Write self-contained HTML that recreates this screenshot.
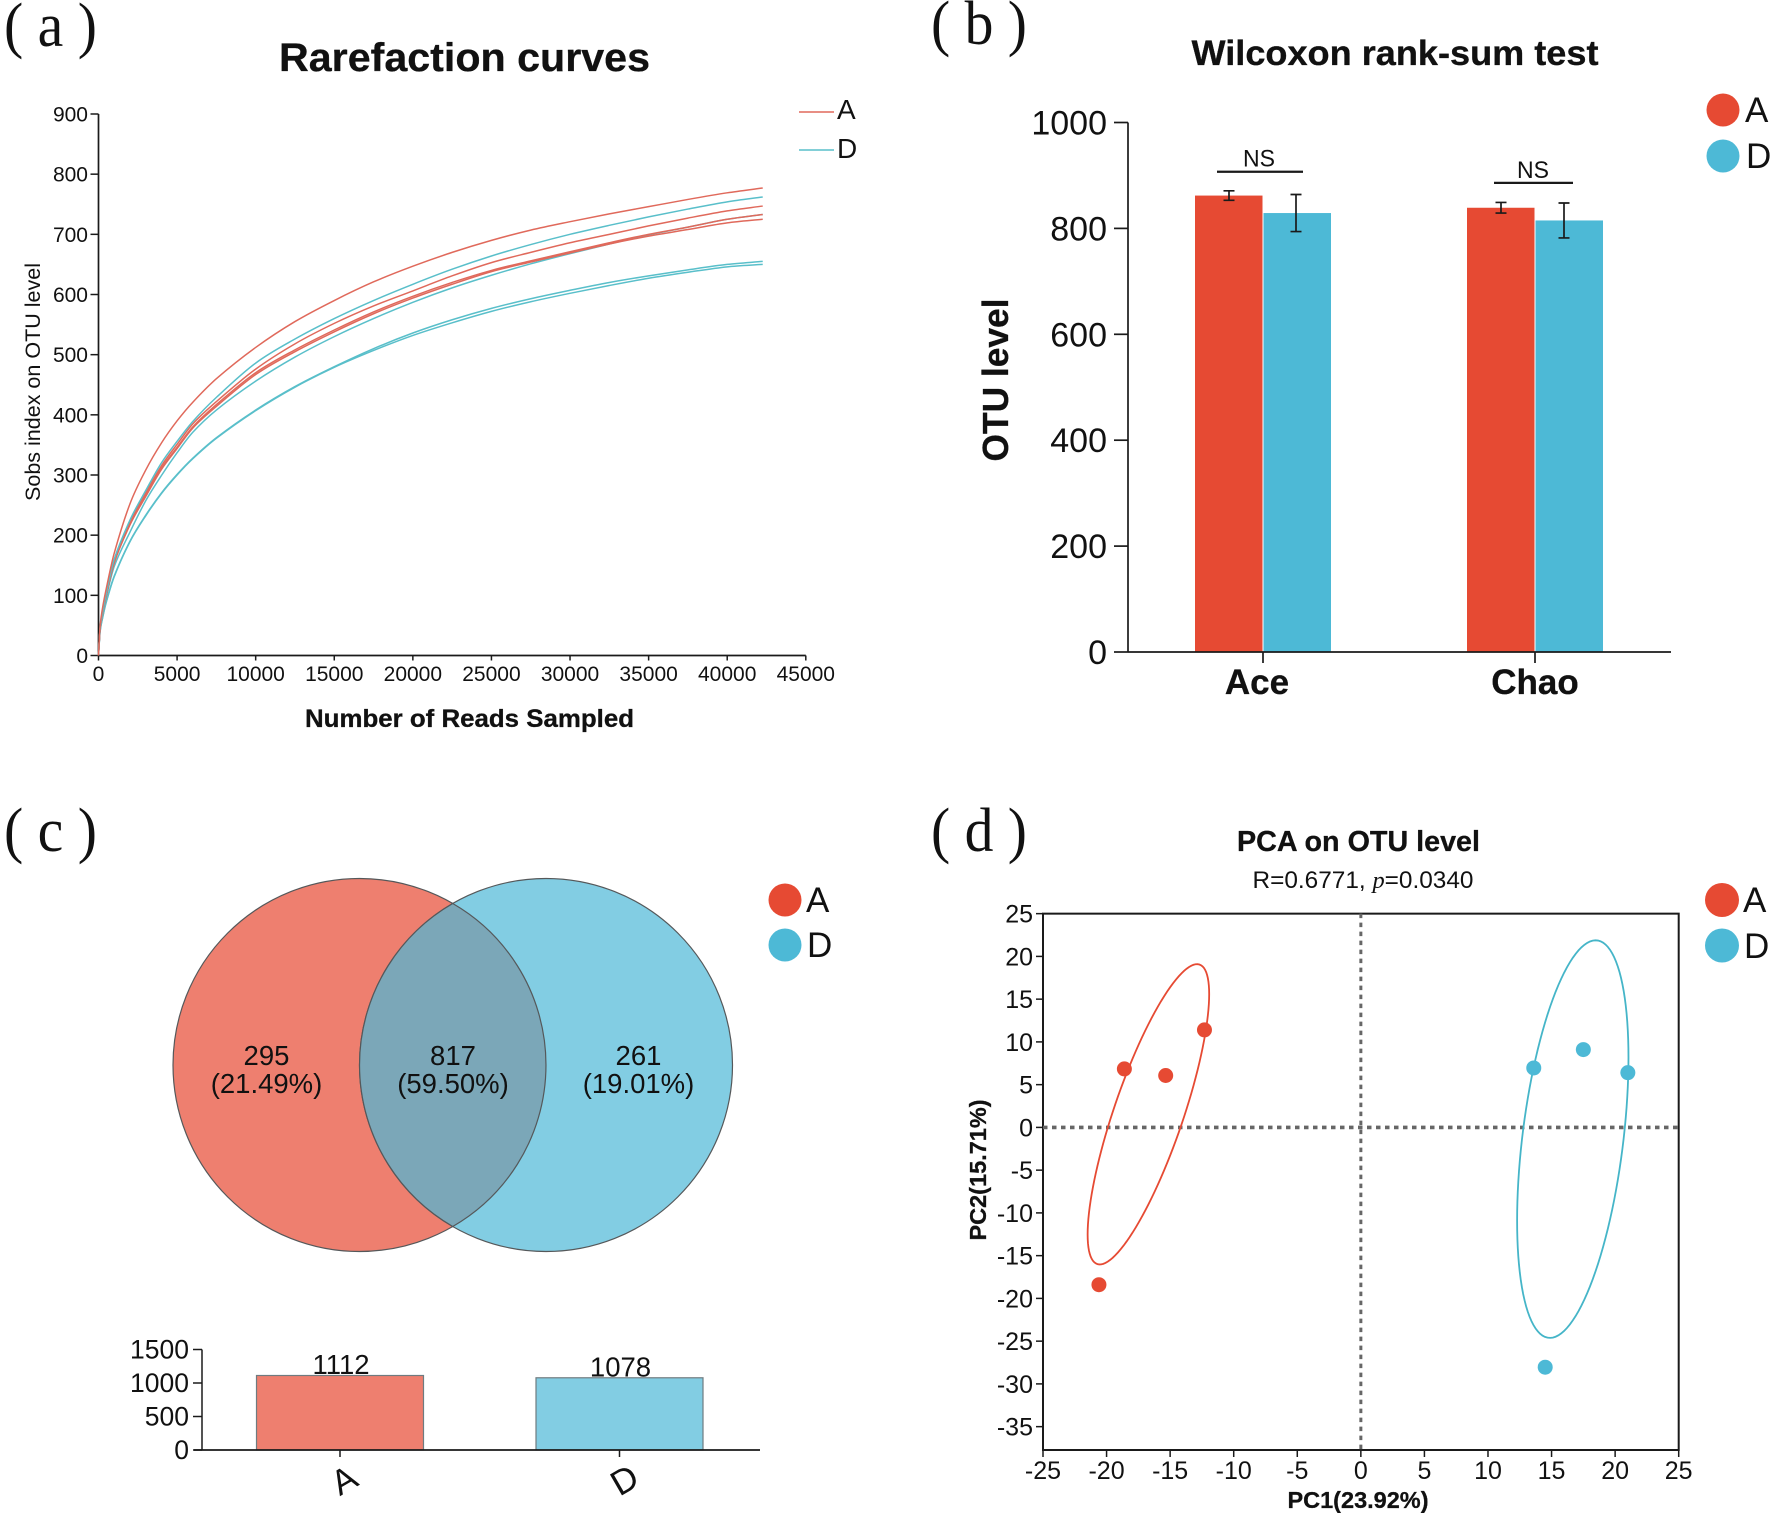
<!DOCTYPE html>
<html lang="en">
<head>
<meta charset="utf-8">
<title>Rarefaction, Wilcoxon, Venn and PCA panels</title>
<style>
html,body{margin:0;padding:0;background:#fff}
svg{display:block}
text{font-family:"Liberation Sans",Arial,sans-serif;fill:#111}
.panel{font-family:"Liberation Serif","Times New Roman",serif;font-size:62px;fill:#111}
.b{font-weight:bold;stroke:#111;stroke-width:0.3px}
</style>
</head>
<body>
<svg id="fig" xmlns="http://www.w3.org/2000/svg" width="1772" height="1513" viewBox="0 0 1772 1513">
<rect width="1772" height="1513" fill="#fff"/>

<text class="panel" x="4" y="46" textLength="93" lengthAdjust="spacingAndGlyphs">( a )</text>
<text class="panel" x="931" y="44" textLength="96" lengthAdjust="spacingAndGlyphs">( b )</text>
<text class="panel" x="4" y="851" textLength="93" lengthAdjust="spacingAndGlyphs">( c )</text>
<text class="panel" x="931" y="851" textLength="96" lengthAdjust="spacingAndGlyphs">( d )</text>

<g id="panel-a">
<text class="b" x="464.5" y="71" font-size="40" text-anchor="middle" textLength="371" lengthAdjust="spacingAndGlyphs">Rarefaction curves</text>
<text x="0" y="0" font-size="21" text-anchor="middle" textLength="238" lengthAdjust="spacingAndGlyphs" transform="translate(40,382) rotate(-90)">Sobs index on OTU level</text>
<text class="b" x="469.5" y="727" font-size="25" text-anchor="middle" textLength="329" lengthAdjust="spacingAndGlyphs">Number of Reads Sampled</text>
<line x1="799" x2="834" y1="112" y2="112" stroke="#e0695b" stroke-width="1.4"/>
<line x1="799" x2="834" y1="150" y2="150" stroke="#59bfca" stroke-width="1.4"/>
<text x="837" y="119" font-size="28">A</text>
<text x="837" y="158" font-size="28">D</text>
</g>

<g id="panel-b">
<text class="b" x="1395" y="65" font-size="35" text-anchor="middle" textLength="407" lengthAdjust="spacingAndGlyphs">Wilcoxon rank-sum test</text>
<text class="b" x="0" y="0" font-size="36" text-anchor="middle" textLength="163" lengthAdjust="spacingAndGlyphs" transform="translate(1008,380) rotate(-90)">OTU level</text>
<circle cx="1723" cy="110" r="16.5" fill="#e64a33"/>
<circle cx="1723" cy="156" r="16.5" fill="#4db9d6"/>
<text x="1745" y="122" font-size="35">A</text>
<text x="1746" y="168" font-size="35">D</text>
</g>

<g id="panel-c">
<ellipse cx="359.5" cy="1065" rx="186.5" ry="186.5" fill="#ee7f6f" stroke="#55585a" stroke-width="1.2"/>
<ellipse cx="546" cy="1065" rx="186.5" ry="186.5" fill="#82cde3" stroke="#55585a" stroke-width="1.2"/>
<path d="M452.75,903.5 A186.5,186.5 0 0 1 452.75,1226.5 A186.5,186.5 0 0 1 452.75,903.5 Z" fill="#7ba7b8" stroke="#55585a" stroke-width="1.2"/>
<text x="266.5" y="1065" font-size="27.5" text-anchor="middle">295</text>
<text x="266.5" y="1093" font-size="27.5" text-anchor="middle">(21.49%)</text>
<text x="453" y="1065" font-size="27.5" text-anchor="middle">817</text>
<text x="453" y="1093" font-size="27.5" text-anchor="middle">(59.50%)</text>
<text x="638.5" y="1065" font-size="27.5" text-anchor="middle">261</text>
<text x="638.5" y="1093" font-size="27.5" text-anchor="middle">(19.01%)</text>
<circle cx="785" cy="900" r="16.5" fill="#e64a33"/>
<circle cx="785" cy="945" r="16.5" fill="#4db9d6"/>
<text x="806" y="912" font-size="35">A</text>
<text x="807" y="957" font-size="35">D</text>
</g>

<g id="panel-d">
<text class="b" x="1358.5" y="851" font-size="28.5" text-anchor="middle" textLength="243" lengthAdjust="spacingAndGlyphs">PCA on OTU level</text>
<text x="1363" y="888" font-size="24.5" text-anchor="middle" textLength="221" lengthAdjust="spacingAndGlyphs">R=0.6771, <tspan font-family="Liberation Serif" font-style="italic">p</tspan>=0.0340</text>
<text class="b" x="1358" y="1508" font-size="23.5" text-anchor="middle">PC1(23.92%)</text>
<text class="b" x="0" y="0" font-size="23.5" text-anchor="middle" transform="translate(986,1170) rotate(-90)">PC2(15.71%)</text>
<circle cx="1722" cy="900" r="17" fill="#e64a33"/>
<circle cx="1722" cy="945.5" r="17" fill="#4db9d6"/>
<text x="1743" y="912" font-size="35">A</text>
<text x="1744" y="958" font-size="35">D</text>
</g>
</svg>

<script>
// ---- Panel a data: rarefaction curves ----
const readsSampled = [0,100,250,500,1000,2000,3000,4000,5000,6000,7500,10000,12500,15000,17500,20000,22500,25000,27500,30000,32500,35000,37500,40000,42260];
const curveA1 = [0,48,78,112,170,252,308,353,390,421,460,512,555,590,621,647,670,690,707,721,734,746,758,769,777];
const curveD1 = [0,45,70,104,160,225,274,320,356,389,429,486,526,560,590,617,642,664,683,700,715,729,742,754,762];
const curveA2 = [0,44,69,102,157,221,270,315,351,385,422,476,518,552,581,606,631,653,670,686,700,714,727,739,747];
const curveA3 = [0,44,68,100,155,218,266,311,346,380,417,470,508,541,571,597,620,640,656,671,686,700,712,725,733];
const curveA4 = [0,44,68,100,154,217,264,309,344,378,414,467,505,538,568,594,617,638,654,669,684,697,708,719,725];
const curveD2 = [0,43,66,98,148,205,257,299,337,371,408,456,496,530,560,587,611,632,651,668,684,699,712,725,733];
const curveD3 = [0,40,62,90,132,190,233,270,301,328,362,408,447,480,510,536,558,577,593,607,620,631,641,650,655];
const curveD4 = [0,39,61,89,131,189,232,269,300,327,361,407,446,479,507,532,553,572,588,602,615,627,637,646,650];
const rareXTicks = [0,5000,10000,15000,20000,25000,30000,35000,40000,45000];
const rareYTicks = [0,100,200,300,400,500,600,700,800,900];

// ---- Panel b data: Wilcoxon bars ----
const wilcoxCategories = ['Ace','Chao'];
const wilcoxA = [862,839];
const wilcoxD = [829,815];
const wilcoxErrA = [9,10];
const wilcoxErrD = [35,33];
const wilcoxNsLevel = [907,886];
const wilcoxYTicks = [0,200,400,600,800,1000];

// ---- Panel c data: set sizes ----
const setNames = ['A','D'];
const setSizes = [1112,1078];
const setYTicks = [0,500,1000,1500];

// ---- Panel d data: PCA ----
const pcaAx = [-12.3,-18.6,-15.35,-20.6];
const pcaAy = [11.4,6.84,6.07,-18.4];
const pcaDx = [17.5,13.6,21,14.5];
const pcaDy = [9.1,6.95,6.4,-28.05];
const ellipseA = [-16.71,1.53,4.78,17.56,0.80];
const ellipseD = [16.67,-1.37,4.38,23.25,0.41];
const pcaXTicks = [-25,-20,-15,-10,-5,0,5,10,15,20,25];
const pcaYTicks = [25,20,15,10,5,0,-5,-10,-15,-20,-25,-30,-35];

const NS = 'http://www.w3.org/2000/svg';
const RED = '#e0695b', TEAL = '#59bfca', BARRED = '#e64a33', BARBLUE = '#4db9d6', INK = '#1a1a1a';

function mk(parent, tag, attrs, txt) {
  const el = document.createElementNS(NS, tag);
  for (const k in attrs) el.setAttribute(k, attrs[k]);
  if (txt !== undefined) el.textContent = txt;
  document.getElementById(parent).appendChild(el);
  return el;
}
// Cubic Hermite through the points with non-uniform finite-difference tangents.
function smooth(pts) {
  const n = pts.length;
  const slope = i => {
    const a = pts[Math.max(i - 1, 0)], b = pts[Math.min(i + 1, n - 1)];
    return (b[1] - a[1]) / (b[0] - a[0]);
  };
  let d = 'M' + pts[0][0].toFixed(2) + ',' + pts[0][1].toFixed(2);
  for (let i = 0; i < n - 1; i++) {
    const p1 = pts[i], p2 = pts[i + 1], h = (p2[0] - p1[0]) / 3;
    d += 'C' + (p1[0] + h).toFixed(2) + ',' + (p1[1] + slope(i) * h).toFixed(2) + ' ' +
         (p2[0] - h).toFixed(2) + ',' + (p2[1] - slope(i + 1) * h).toFixed(2) + ' ' +
         p2[0].toFixed(2) + ',' + p2[1].toFixed(2);
  }
  return d;
}

// ---- Panel a ----
const ax = v => 98.5 + v * (805.8 - 98.5) / 45000;
const ay = v => 655.5 - v * (655.5 - 114) / 900;
let el;
el = mk('panel-a', 'line', {x1: ax(0), x2: ax(0), y1: ay(900), y2: ay(0), stroke: INK, 'stroke-width': 1.7});


el = mk('panel-a', 'line', {x1: ax(0), x2: ax(45000), y1: ay(0), y2: ay(0), stroke: INK, 'stroke-width': 1.7});


rareYTicks.forEach(t => {
  el = mk('panel-a', 'line', {x1: ax(0) - 8, x2: ax(0), y1: ay(t), y2: ay(t), stroke: INK, 'stroke-width': 1.5});
  
  
  el = mk('panel-a', 'text', {x: ax(0) - 10.5, y: ay(t) + 7.5, 'font-size': 21, 'text-anchor': 'end'}, String(t));
  
  
});
rareXTicks.forEach(t => {
  el = mk('panel-a', 'line', {x1: ax(t), x2: ax(t), y1: ay(0), y2: ay(0) + 5, stroke: INK, 'stroke-width': 1.5});
  
  
  el = mk('panel-a', 'text', {x: ax(t), y: 681, 'font-size': 21, 'text-anchor': 'middle'}, String(t));
  
  
});
function drawCurve(values, color) {
  const line = mk('panel-a', 'path', {d: smooth(values.map((v, i) => [ax(readsSampled[i]), ay(v)])), fill: 'none', stroke: color, 'stroke-width': 1.5});
  return line;
}
el = drawCurve(curveD3, TEAL);


el = drawCurve(curveD4, TEAL);


el = drawCurve(curveD2, TEAL);


el = drawCurve(curveA4, RED);


el = drawCurve(curveA3, RED);


el = drawCurve(curveA2, RED);


el = drawCurve(curveD1, TEAL);


el = drawCurve(curveA1, RED);



// ---- Panel b ----
const bx = i => 1263 + i * 272;
const by = v => 652 - v * 0.5295;
const barW = 68;
wilcoxCategories.forEach((c, i) => {
  el = mk('panel-b', 'rect', {x: bx(i) - barW, y: by(wilcoxA[i]), width: barW - 0.5, height: by(0) - by(wilcoxA[i]), fill: BARRED});
  
  
  el = mk('panel-b', 'rect', {x: bx(i) + 0.5, y: by(wilcoxD[i]), width: barW - 0.5, height: by(0) - by(wilcoxD[i]), fill: BARBLUE});
  
  
  [[wilcoxA[i], wilcoxErrA[i], bx(i) - barW / 2], [wilcoxD[i], wilcoxErrD[i], bx(i) + (i === 0 ? 33 : 29)]].forEach(e => {
    const hi = by(e[0] + e[1]), lo = by(e[0] - e[1]), x = e[2];
    el = mk('panel-b', 'path', {d: `M${x},${hi}V${lo}M${x - 5.5},${hi}H${x + 5.5}M${x - 5.5},${lo}H${x + 5.5}`, fill: 'none', stroke: INK, 'stroke-width': 1.7});
    
    
  });
  el = mk('panel-b', 'line', {x1: bx(i) - (i === 0 ? 46 : 41), x2: bx(i) + (i === 0 ? 40 : 38), y1: by(wilcoxNsLevel[i]), y2: by(wilcoxNsLevel[i]), stroke: INK, 'stroke-width': 2.2});
  
  
  el = mk('panel-b', 'text', {x: bx(i) - (i === 0 ? 4 : 2), y: by(wilcoxNsLevel[i]) - 5, 'font-size': 24, 'text-anchor': 'middle', textLength: 32, lengthAdjust: 'spacingAndGlyphs'}, 'NS');
  
  
  el = mk('panel-b', 'line', {x1: bx(i), x2: bx(i), y1: by(0), y2: by(0) + 11, stroke: INK, 'stroke-width': 1.7});
  
  
  el = mk('panel-b', 'text', {x: bx(i) - (i === 0 ? 6 : 0), y: 694, 'font-size': 35, 'font-weight': 'bold', 'text-anchor': 'middle', stroke: '#111', 'stroke-width': 0.3}, c);
  
  
});
el = mk('panel-b', 'line', {x1: 1128, x2: 1128, y1: by(1000), y2: by(0), stroke: INK, 'stroke-width': 1.7});


el = mk('panel-b', 'line', {x1: 1128, x2: 1671, y1: by(0), y2: by(0), stroke: INK, 'stroke-width': 1.7});


wilcoxYTicks.forEach(t => {
  el = mk('panel-b', 'line', {x1: 1114, x2: 1128, y1: by(t), y2: by(t), stroke: INK, 'stroke-width': 1.7});
  
  
  el = mk('panel-b', 'text', {x: 1107, y: by(t) + 12, 'font-size': 34, 'text-anchor': 'end'}, String(t));
  
  
});

// ---- Panel c bars ----
const cx = i => 340 + i * 279.5;
const cy = v => 1450 - v * (1450 - 1349.5) / 1500;
const cFill = ['#ee7f6f', '#82cde3'];
const cBarW = 167;
setNames.forEach((n, i) => {
  el = mk('panel-c', 'rect', {x: cx(i) - cBarW / 2, y: cy(setSizes[i]), width: cBarW, height: cy(0) - cy(setSizes[i]), fill: cFill[i], stroke: '#6f7b80', 'stroke-width': 1.2});
  
  
  el = mk('panel-c', 'text', {x: cx(i) + 1, y: cy(setSizes[i]) - 1.5, 'font-size': 27.5, 'text-anchor': 'middle'}, String(setSizes[i]));
  
  
  el = mk('panel-c', 'line', {x1: cx(i), x2: cx(i), y1: cy(0), y2: cy(0) + 7, stroke: INK, 'stroke-width': 1.5});
  
  
  el = mk('panel-c', 'text', {x: 0, y: 12, 'font-size': 35, 'text-anchor': 'middle', transform: `translate(${cx(i) + (i === 0 ? 4 : 5)},1480) rotate(-30)`}, n);
  
  
});
el = mk('panel-c', 'line', {x1: 202, x2: 202, y1: cy(1500), y2: cy(0), stroke: INK, 'stroke-width': 1.5});


el = mk('panel-c', 'line', {x1: 194, x2: 760, y1: cy(0), y2: cy(0), stroke: INK, 'stroke-width': 1.7});


setYTicks.forEach(t => {
  el = mk('panel-c', 'line', {x1: 193, x2: 202, y1: cy(t), y2: cy(t), stroke: INK, 'stroke-width': 1.5});
  
  
  el = mk('panel-c', 'text', {x: 189, y: cy(t) + 9, 'font-size': 26.5, 'text-anchor': 'end'}, String(t));
  
  
});

// ---- Panel d ----
const dx = v => 1043 + (v + 25) * (1678.7 - 1043) / 50;
const dy = v => 1127.4 - v * 8.55;
const dLeft = dx(-25), dRight = dx(25), dTop = dy(25), dBottom = 1450;
el = mk('panel-d', 'rect', {x: dLeft, y: dTop, width: dRight - dLeft, height: dBottom - dTop, fill: 'none', stroke: INK, 'stroke-width': 2});


el = mk('panel-d', 'line', {x1: dx(0), x2: dx(0), y1: dTop, y2: dBottom, stroke: '#666', 'stroke-width': 3, 'stroke-dasharray': '4.5 4.5'});


el = mk('panel-d', 'line', {x1: dLeft, x2: dRight, y1: dy(0), y2: dy(0), stroke: '#666', 'stroke-width': 3.6, 'stroke-dasharray': '4.5 4.5'});


pcaXTicks.forEach(t => {
  el = mk('panel-d', 'line', {x1: dx(t), x2: dx(t), y1: dBottom, y2: dBottom + 7, stroke: INK, 'stroke-width': 1.5});
  
  
  el = mk('panel-d', 'text', {x: dx(t), y: 1479, 'font-size': 25, 'text-anchor': 'middle'}, String(t));
  
  
});
pcaYTicks.forEach(t => {
  el = mk('panel-d', 'line', {x1: dLeft - 7, x2: dLeft, y1: dy(t), y2: dy(t), stroke: INK, 'stroke-width': 1.5});
  
  
  el = mk('panel-d', 'text', {x: 1033, y: dy(t) + 9, 'font-size': 25, 'text-anchor': 'end'}, String(t));
  
  
});
function ellipsePath(p) {
  let d = '';
  for (let k = 0; k <= 120; k++) {
    const t = k / 120 * 2 * Math.PI;
    const x = p[0] + p[2] * Math.cos(t);
    const y = p[1] + p[3] * (p[4] * Math.cos(t) + Math.sqrt(1 - p[4] * p[4]) * Math.sin(t));
    d += (k ? 'L' : 'M') + dx(x).toFixed(2) + ',' + dy(y).toFixed(2);
  }
  return d + 'Z';
}
el = mk('panel-d', 'path', {d: ellipsePath(ellipseA), fill: 'none', stroke: BARRED, 'stroke-width': 1.8});


el = mk('panel-d', 'path', {d: ellipsePath(ellipseD), fill: 'none', stroke: '#45b5c8', 'stroke-width': 1.8});


pcaAx.forEach((x, i) => {
  el = mk('panel-d', 'circle', {cx: dx(x), cy: dy(pcaAy[i]), r: 7.5, fill: BARRED});
  
  
});
pcaDx.forEach((x, i) => {
  el = mk('panel-d', 'circle', {cx: dx(x), cy: dy(pcaDy[i]), r: 7.5, fill: BARBLUE});
  
  
});
</script>
</body>
</html>
